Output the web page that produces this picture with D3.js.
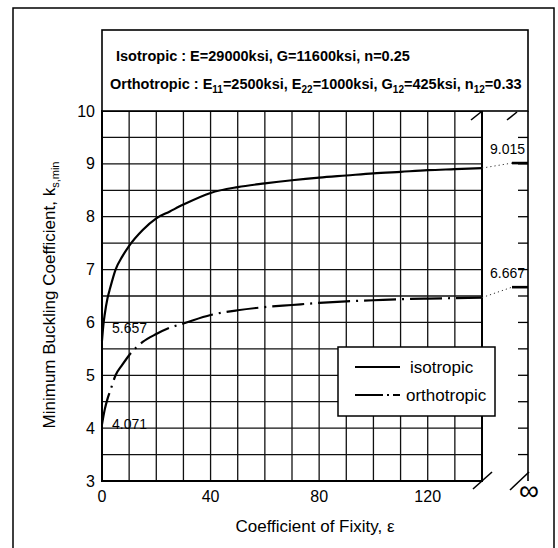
<!DOCTYPE html>
<html><head><meta charset="utf-8">
<script src="https://cdn.jsdelivr.net/npm/d3@7"></script>
<style>body{margin:0;background:#fff} svg{display:block} text{font-family:"Liberation Sans",Arial,Helvetica,sans-serif;fill:#000}</style>
</head><body><svg id="c" width="558" height="548"></svg>
<script>
// ---- data ----
const epsIso = [0,0.5,1,2,3,5,7.5,10,15,20,25,30,40,50,60,70,80,90,100,110,120,130,140];
const kIso   = [5.657,5.95,6.15,6.45,6.65,7.0,7.25,7.45,7.75,7.97,8.1,8.23,8.45,8.56,8.63,8.69,8.74,8.78,8.82,8.85,8.88,8.9,8.92];
const epsOrtho = [0,1,2,3,5,7.5,10,15,20,25,30,40,50,60,70,80,90,100,110,120,130,140];
const kOrtho   = [4.071,4.35,4.55,4.7,5.0,5.2,5.38,5.63,5.78,5.9,5.98,6.14,6.23,6.29,6.33,6.37,6.4,6.42,6.44,6.45,6.46,6.47];
const kInfinity = [9.015, 6.667];          // iso, ortho at epsilon = infinity
const infLabels = ["9.015", "6.667"];
const startValues = [5.657, 4.071];
const startLabels = ["5.657", "4.071"];
const xTicks = [0, 40, 80, 120];
const yTicks = [3, 4, 5, 6, 7, 8, 9, 10];
const seriesNames = ["isotropic", "orthotropic"];
const headerLine1 = "Isotropic : E=29000ksi, G=11600ksi, n=0.25";
const headerLine2 = [["Orthotropic : E",0],["11",1],["=2500ksi, E",0],["22",1],["=1000ksi, G",0],["12",1],["=425ksi, n",0],["12",1],["=0.33",0]];
const xTitle = "Coefficient of Fixity, \u03B5";

// ---- layout ----
const svg = d3.select("#c");
const L = 102, R = 482, T = 111, B = 481;
const x = d3.scaleLinear().domain([0, 140]).range([L, R]);
const y = d3.scaleLinear().domain([3, 10]).range([B, T]);
const infSegL = 512, infX = 528;

// outer frame
svg.append("rect").attr("x",13).attr("y",8).attr("width",541).attr("height",545)
  .attr("fill","none").attr("stroke","#000").attr("stroke-width",1.5);

// grid
const g = svg.append("g");
g.selectAll(".vg").data(d3.range(0, 141, 10)).join("line")
  .attr("x1", d => x(d)).attr("x2", d => x(d)).attr("y1", T).attr("y2", B)
  .attr("stroke","#111").attr("stroke-width",1.3);
g.selectAll(".hg").data(d3.range(3, 10.01, 0.5)).join("line")
  .attr("y1", d => y(d)).attr("y2", d => y(d)).attr("x1", L).attr("x2", R)
  .attr("stroke","#111").attr("stroke-width",1.3);
svg.append("rect").attr("x",L).attr("y",T).attr("width",R-L).attr("height",B-T)
  .attr("fill","none").attr("stroke","#000").attr("stroke-width",2);

// infinity column
svg.append("line").attr("x1",infX).attr("x2",infX).attr("y1",T).attr("y2",B)
  .attr("stroke","#000").attr("stroke-width",1.6);
svg.selectAll(".it").data(d3.range(3.5, 10, 0.5)).join("line")
  .attr("x1", infX-10).attr("x2", infX).attr("y1", d => y(d)).attr("y2", d => y(d))
  .attr("stroke","#000").attr("stroke-width",1.3);

// header box
svg.append("rect").attr("x",L).attr("y",30).attr("width",infX-L).attr("height",T-30)
  .attr("fill","#fff").attr("stroke","#000").attr("stroke-width",1.6);
svg.append("text").attr("x",116).attr("y",61).attr("font-size",14.5).attr("font-weight","bold").text(headerLine1);
const h2 = svg.append("text").attr("x",110).attr("y",89).attr("font-size",14.5).attr("font-weight","bold");
h2.selectAll("tspan").data(headerLine2).join("tspan")
  .attr("font-size", d => d[1] ? 10 : 14.5)
  .attr("dy", (d,i) => d[1] ? 4 : (i > 0 ? -4 : 0))
  .text(d => d[0]);

// break marks
const brk = [[473,489,492,472],[510,490,529,472],[471,120,481,112],[507,120,517,112]];
svg.selectAll(".bk").data(brk).join("line")
  .attr("x1",d=>d[0]).attr("y1",d=>d[1]).attr("x2",d=>d[2]).attr("y2",d=>d[3])
  .attr("stroke","#000").attr("stroke-width",1.6);
svg.append("text").attr("x",529).attr("y",500).attr("text-anchor","middle")
  .attr("font-size",28).text("\u221E");

// curves
const line = d3.line().x(d => x(d[0])).y(d => y(d[1])).curve(d3.curveMonotoneX);
const isoData = epsIso.map((e,i) => [e, kIso[i]]);
const orthoData = epsOrtho.map((e,i) => [e, kOrtho[i]]);
svg.append("path").attr("d", line(isoData)).attr("fill","none").attr("stroke","#000").attr("stroke-width",2.2);
svg.append("path").attr("d", line(orthoData)).attr("fill","none").attr("stroke","#000").attr("stroke-width",2.2)
  .attr("stroke-dasharray","32,6,2,6");

// connectors to infinity
const ends = [kIso[kIso.length-1], kOrtho[kOrtho.length-1]];
svg.selectAll(".cn").data(kInfinity).join("line")
  .attr("x1", x(140)).attr("y1", (d,i) => y(ends[i])).attr("x2", infSegL).attr("y2", d => y(d))
  .attr("stroke","#333").attr("stroke-width",1).attr("stroke-dasharray","1.2,3");
svg.selectAll(".sg").data(kInfinity).join("line")
  .attr("x1", infSegL).attr("x2", infX).attr("y1", d => y(d)).attr("y2", d => y(d))
  .attr("stroke","#000").attr("stroke-width",2.6);
svg.selectAll(".il").data(kInfinity).join("text")
  .attr("x", 490).attr("y", d => y(d) - 9).attr("font-size",14).text((d,i) => infLabels[i]);
svg.selectAll(".sl").data(startValues).join("text")
  .attr("x", 112).attr("y", (d,i) => i === 0 ? y(d) - 8 : y(d) + 5).attr("font-size",14)
  .text((d,i) => startLabels[i]);

// axes tick labels
svg.selectAll(".yt").data(yTicks).join("text")
  .attr("x", 95).attr("y", d => y(d) + 5.5).attr("text-anchor","end").attr("font-size",16).text(d => d);
svg.selectAll(".xt").data(xTicks).join("text")
  .attr("x", d => x(d)).attr("y", 502).attr("text-anchor","middle").attr("font-size",16).text(d => d);

// axis titles
svg.append("text").attr("x",315).attr("y",532).attr("text-anchor","middle").attr("font-size",17).text(xTitle);
const yt = svg.append("text").attr("transform","translate(55,295) rotate(-90)").attr("text-anchor","middle").attr("font-size",17);
yt.append("tspan").text("Minimum Buckling Coefficient, k");
yt.append("tspan").attr("font-size",11).attr("dy",4).text("s,min");

// legend
const lg = svg.append("g");
lg.append("rect").attr("x",338).attr("y",347).attr("width",157).attr("height",69)
  .attr("fill","#fff").attr("stroke","#000").attr("stroke-width",1.5);
const dashes = [null, "28,4,2,4"];
const ly = [367, 395];
seriesNames.forEach((n,i) => {
  lg.append("line").attr("x1",355).attr("x2",400).attr("y1",ly[i]).attr("y2",ly[i])
    .attr("stroke","#000").attr("stroke-width",1.8).attr("stroke-dasharray", dashes[i]);
  lg.append("text").attr("x", i ? 406 : 410).attr("y", ly[i] + 6).attr("font-size",17).text(n);
});
</script></body></html>
